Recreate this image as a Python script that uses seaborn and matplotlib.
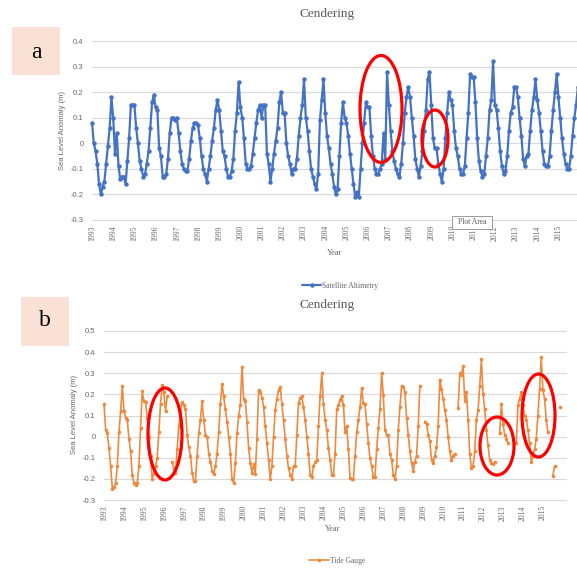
import numpy as np
import pandas as pd
import matplotlib
matplotlib.use("Agg")
import matplotlib.pyplot as plt
from matplotlib.patches import Ellipse, Rectangle
from matplotlib.lines import Line2D
import seaborn as sns

nan = np.nan

station = "Cendering"
years = [str(y) for y in range(1993, 2016)]

# monthly sea level anomaly (m) starting Jan 1993, one row per year
satellite = [
    0.08, 0.00, -0.03, -0.08, -0.16, -0.20, -0.17, -0.15, -0.08, -0.01, 0.06, 0.18,
    0.10, -0.04, 0.04, -0.09, -0.14, -0.13, -0.13, -0.16, -0.07, 0.02, 0.15, 0.15,
    0.15, 0.06, 0.00, -0.07, -0.10, -0.13, -0.12, -0.08, -0.03, 0.06, 0.16, 0.19,
    0.14, 0.13, -0.02, -0.05, -0.13, -0.13, -0.12, -0.06, 0.04, 0.10, 0.10, 0.09,
    0.10, 0.04, -0.03, -0.08, -0.10, -0.11, -0.11, -0.06, 0.01, 0.06, 0.08, 0.08,
    0.07, 0.02, -0.05, -0.10, -0.12, -0.15, -0.10, -0.05, 0.01, 0.06, 0.13, 0.17,
    0.13, 0.05, -0.03, -0.05, -0.10, -0.13, -0.13, -0.11, -0.06, 0.05, 0.12, 0.24,
    0.14, 0.10, 0.02, -0.08, -0.10, -0.10, -0.09, -0.04, 0.02, 0.08, 0.13, 0.15,
    0.10, 0.15, 0.15, -0.04, -0.08, -0.15, -0.10, -0.04, 0.01, 0.06, 0.16, 0.20,
    0.12, 0.12, 0.00, -0.05, -0.08, -0.12, -0.10, -0.10, -0.06, 0.03, 0.10, 0.15,
    0.25, 0.10, 0.05, -0.03, -0.10, -0.13, -0.16, -0.18, -0.12, 0.09, 0.17, 0.25,
    0.12, 0.03, -0.02, -0.08, -0.12, -0.17, -0.20, -0.18, -0.05, 0.08, 0.16, 0.10,
    0.08, 0.03, -0.04, -0.10, -0.16, -0.21, -0.19, -0.21, -0.10, 0.00, 0.08, 0.16,
    0.14, 0.14, 0.03, -0.05, -0.10, -0.12, -0.12, -0.10, -0.08, 0.04, -0.06, 0.28,
    0.15, 0.05, -0.03, -0.07, -0.10, -0.12, -0.13, -0.08, 0.00, 0.12, 0.18, 0.22,
    0.18, 0.10, 0.03, -0.06, -0.10, -0.13, -0.09, -0.03, 0.05, 0.13, 0.25, 0.28,
    0.15, 0.02, -0.02, -0.02, -0.08, -0.12, -0.15, -0.10, 0.02, 0.12, 0.20, 0.17,
    0.15, 0.05, -0.02, -0.05, -0.10, -0.12, -0.12, -0.09, 0.02, 0.12, 0.27, 0.26,
    0.26, 0.16, 0.02, -0.07, -0.11, -0.13, -0.12, -0.05, 0.02, 0.13, 0.17, 0.32,
    0.15, 0.13, 0.06, -0.03, -0.09, -0.12, -0.11, -0.05, 0.05, 0.12, 0.14, 0.22,
    0.22, 0.18, 0.10, 0.03, -0.06, -0.09, -0.05, -0.04, 0.05, 0.13, 0.18, 0.25,
    0.17, 0.12, 0.05, -0.03, -0.08, -0.09, -0.09, -0.05, 0.05, 0.13, 0.20, 0.27,
    0.18, 0.10, 0.02, -0.04, -0.08, -0.10, -0.10, -0.05, 0.03, 0.10, 0.15, 0.22,
]

tide_gauge = [
    0.155, 0.03, 0.015, -0.055, -0.14, -0.245, -0.24, -0.22, -0.14, 0.02, 0.12, 0.24,
    0.12, 0.09, 0.08, -0.01, -0.07, -0.18, -0.22, -0.23, -0.22, -0.14, 0.04, 0.215,
    0.17, 0.165, 0.09, 0.00, -0.09, -0.20, -0.17, -0.14, -0.10, 0.02, 0.155, 0.245,
    0.21, 0.12, 0.19, nan, nan, -0.12, -0.15, -0.17, -0.06, 0.05, 0.11, 0.165,
    0.15, 0.13, 0.01, -0.05, -0.09, -0.17, -0.21, -0.21, -0.09, 0.015, 0.08, 0.17,
    0.08, 0.01, 0.00, -0.08, -0.12, -0.16, -0.175, -0.14, -0.08, 0.02, 0.155, 0.25,
    0.19, 0.13, 0.07, 0.00, -0.08, -0.20, -0.22, -0.125, 0.015, 0.10, 0.15, 0.33,
    0.18, 0.17, 0.07, -0.055, -0.125, -0.17, -0.13, -0.175, -0.01, 0.22, 0.21, 0.185,
    0.14, 0.05, -0.03, -0.11, -0.20, -0.14, 0.00, 0.125, 0.18, 0.22, 0.235, 0.155,
    0.08, -0.01, -0.09, -0.15, -0.18, -0.20, -0.14, -0.14, 0.01, 0.16, 0.185, 0.19,
    0.14, 0.08, 0.00, -0.08, -0.18, -0.19, -0.14, -0.12, -0.11, 0.05, 0.19, 0.30,
    0.155, 0.08, 0.03, -0.055, -0.11, -0.18, -0.18, -0.08, 0.13, 0.15, 0.175, 0.19,
    0.15, 0.02, 0.05, -0.06, -0.195, -0.20, -0.20, -0.09, 0.02, 0.08, 0.14, 0.23,
    0.16, 0.155, 0.06, -0.03, -0.10, -0.14, -0.19, -0.19, -0.06, 0.04, 0.13, 0.30,
    0.195, 0.03, 0.01, 0.01, -0.08, -0.11, -0.18, -0.20, -0.14, 0.03, 0.14, 0.24,
    0.235, 0.21, 0.09, 0.01, -0.07, -0.125, -0.16, -0.12, -0.09, 0.05, 0.24, nan,
    nan, 0.07, 0.06, 0.01, -0.02, -0.11, -0.125, -0.09, -0.05, 0.05, 0.27, 0.225,
    0.18, 0.125, 0.08, 0.00, -0.07, -0.11, -0.09, -0.08, nan, 0.137, 0.30, 0.29,
    0.335, 0.17, 0.21, 0.08, -0.08, -0.15, -0.14, -0.07, 0.08, 0.125, 0.24, 0.365,
    0.20, 0.13, 0.03, -0.04, -0.11, -0.125, -0.13, -0.12, nan, nan, 0.015, 0.155,
    0.06, 0.01, -0.01, -0.03, nan, nan, nan, nan, -0.03, 0.15, 0.18, 0.21,
    0.15, 0.10, 0.08, 0.03, -0.03, -0.12, -0.09, -0.06, -0.01, 0.10, 0.225, 0.375,
    0.22, 0.18, 0.08, 0.02, nan, nan, -0.185, -0.14, nan, nan, 0.14, nan,
]

sat_ticks = [-0.3, -0.2, -0.1, 0, 0.1, 0.2, 0.3, 0.4]
tide_ticks = [-0.3, -0.2, -0.1, 0, 0.1, 0.2, 0.3, 0.4, 0.5]


def tick_text(v):
    return "0" if v == 0 else f"{v:g}"


def to_frame(values):
    df = pd.DataFrame({"month": np.arange(len(values)), "sla": values})
    df["seg"] = df["sla"].isna().cumsum()
    return df.dropna()


sns.set_style("white")
plt.rcParams["font.family"] = ["DejaVu Sans"]

W, H = 577, 568
fig = plt.figure(figsize=(W / 100, H / 100), dpi=100)

blue = "#4472C4"
orange = "#EE8A3E"
grey_txt = "#666666"
grid_col = "#D9D9D9"


def px_axes(left, right, top, bottom):
    return fig.add_axes([left / W, 1 - bottom / H, (right - left) / W, (bottom - top) / H])


def style_axis(ax, yticks, xmax):
    ax.set_xlim(0, xmax)
    ax.set_ylim(yticks[0] - 0.004, yticks[-1] + 0.004)
    ax.set_yticks(yticks)
    ax.set_yticklabels([tick_text(v) for v in yticks], fontsize=5.5,
                       family="Liberation Sans", color=grey_txt)
    ax.set_xticks([12 * i for i in range(len(years))])
    ax.set_xticklabels(years, rotation=90, fontsize=5.5,
                       family="Liberation Serif", color=grey_txt)
    ax.tick_params(axis="both", length=0)
    ax.tick_params(axis="y", pad=6)
    ax.tick_params(axis="x", pad=3)
    ax.yaxis.grid(True, color=grid_col, lw=0.8)
    ax.xaxis.grid(False)
    for s in ax.spines.values():
        s.set_visible(False)
    ax.set_xlabel("")
    ax.set_ylabel("")
    ax.patch.set_alpha(0)


# ---- panel a: satellite altimetry
ax_a = px_axes(92, 577, 40, 221)
sns.lineplot(data=to_frame(satellite), x="month", y="sla", units="seg", estimator=None,
             color=blue, lw=1.6, marker="o", markersize=3.2, markeredgewidth=0,
             markeredgecolor=blue, clip_on=False, ax=ax_a)
style_axis(ax_a, sat_ticks, 274.5)
ax_a.legend(handles=[Line2D([], [], color=blue, lw=1.6, marker="o", markersize=3.2,
                            markeredgewidth=0)],
            labels=["Satellite Altimetry"], loc="center",
            bbox_to_anchor=(340 / W, 1 - 286 / H), bbox_transform=fig.transFigure,
            frameon=False, handlelength=2.6, handletextpad=0.1, labelcolor=grey_txt,
            prop={"family": "Liberation Serif", "size": 5.5})

# ---- panel b: tide gauge
ax_b = px_axes(104, 567, 330, 501)
sns.lineplot(data=to_frame(tide_gauge), x="month", y="sla", units="seg", estimator=None,
             color=orange, lw=1.2, marker="o", markersize=2.6, markeredgewidth=0,
             markeredgecolor=orange, clip_on=False, ax=ax_b)
style_axis(ax_b, tide_ticks, 278.5)
ax_b.legend(handles=[Line2D([], [], color=orange, lw=1.2, marker="o", markersize=2.6,
                            markeredgewidth=0)],
            labels=["Tide Gauge"], loc="center",
            bbox_to_anchor=(337 / W, 1 - 561 / H), bbox_transform=fig.transFigure,
            frameon=False, handlelength=2.6, handletextpad=0.1, labelcolor=grey_txt,
            prop={"family": "Liberation Serif", "size": 5.5})

# ---- overlay in pixel coordinates for titles, labels and annotations
ov = fig.add_axes([0, 0, 1, 1])
ov.set_xlim(0, W)
ov.set_ylim(H, 0)
ov.axis("off")
ov.patch.set_alpha(0)

for ty in (14, 305):
    ov.text(327, ty, station, ha="center", va="center", fontsize=9.5,
            family="Liberation Serif", color="#595959")

ov.text(63, 130, "Sea Level Anomaly (m)", rotation=90, ha="center", va="center",
        fontsize=5.5, family="Liberation Sans", color=grey_txt)
ov.text(74, 415, "Sea Level Anomaly (m)", rotation=90, ha="center", va="center",
        fontsize=5.5, family="Liberation Sans", color=grey_txt)
ov.text(335, 253, "Year", ha="center", va="center", fontsize=6,
        family="Liberation Serif", color=grey_txt)
ov.text(333, 529, "Year", ha="center", va="center", fontsize=6,
        family="Liberation Serif", color=grey_txt)

# panel letters
peach = "#F9E2D5"
ov.add_patch(Rectangle((12, 27), 48, 48, facecolor=peach, edgecolor="none"))
ov.text(36, 52, "a", ha="center", va="center", fontsize=17,
        family="Liberation Serif", color="black")
ov.add_patch(Rectangle((21, 297), 48, 49, facecolor=peach, edgecolor="none"))
ov.text(45, 321, "b", ha="center", va="center", fontsize=17,
        family="Liberation Serif", color="black")

# excel tooltip
ov.add_patch(Rectangle((452, 216), 40, 13, facecolor="white", edgecolor="#8c8c8c", lw=0.6))
ov.text(472, 222.5, "Plot Area", ha="center", va="center", fontsize=5.5,
        family="Liberation Serif", color="#595959")

# red highlight ellipses
for cx, cy, w, h in [(381, 109, 42, 107), (435, 138.5, 26, 57),
                     (165, 434, 34, 92), (497, 446, 34, 58), (538.5, 415.5, 33, 83)]:
    ov.add_patch(Ellipse((cx, cy), w, h, facecolor="none", edgecolor="#FF0000", lw=2.3))

fig.savefig("out.png", dpi=100)
